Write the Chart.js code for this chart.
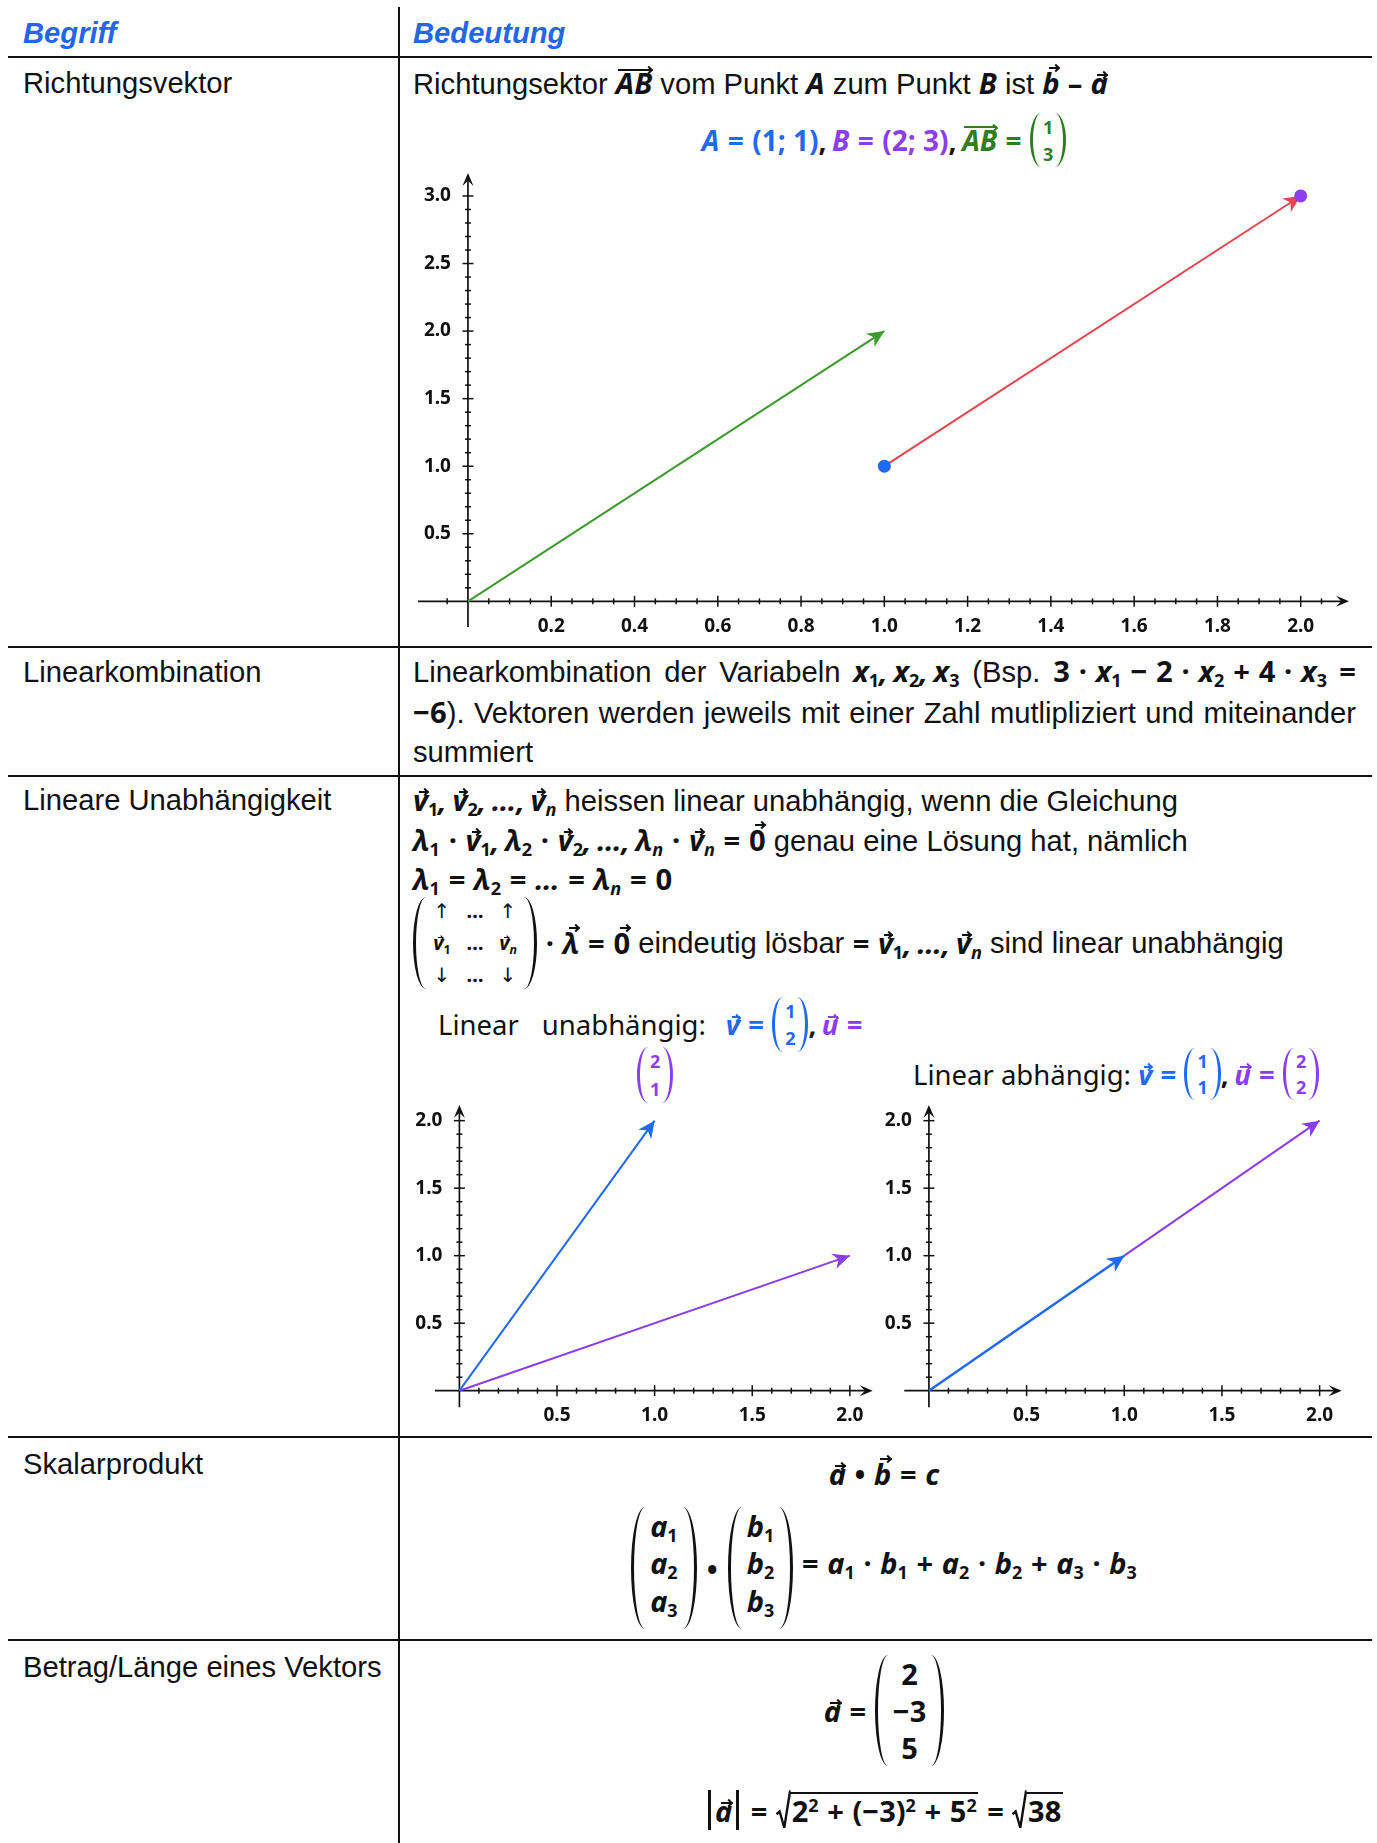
<!DOCTYPE html>
<html lang="de">
<head>
<meta charset="utf-8">
<title>Vektoren – Begriffe</title>
<script src="https://cdn.jsdelivr.net/npm/chart.js@4.4.1/dist/chart.umd.min.js"></script>
<style>
  body { margin: 0; background: #fff; }
  #seite { position: relative; width: 1377px; height: 1843px; overflow: hidden; background: #fff;
           font-family: "Liberation Sans", Arial, sans-serif; font-size: 29.2px; color: #111;
           --blau: #1f69f3; --lila: #8b3df0; --gruen: #2f7f22; }
  .lin { position: absolute; background: #111; }
  .t { position: absolute; white-space: nowrap; line-height: 40px; }
  .kopf { color: #2266ee; font-weight: bold; font-style: italic; }
  .f { position: absolute; display: flex; align-items: center; white-space: pre; }
  .mitte { left: 400px; width: 968px; justify-content: center; }
  canvas { position: absolute; }
  .m { font-family: "Noto Sans", sans-serif; font-weight: 700; }
  .n { font-family: "Noto Sans", sans-serif; font-weight: 400; }
  .pf { font-family: "DejaVu Sans", sans-serif; font-weight: 400; font-size: 20px; }
  .i { font-style: italic; }
  .o { display: inline-block; margin: 0 .3em; font-style: normal; }
  .k { margin-right: .2em; }
  sub { font-size: 0.62em; line-height: 0; vertical-align: -0.3em; font-style: normal; }
  sub.i { font-style: italic; }
  .vec, .ovec { position: relative; display: inline-block; line-height: normal; --t: .38em; --r: -.02em; }
  .vec.h { --t: .15em; }
  .ovec { --t: .19em; }
  .vec::before, .ovec::before { content: ""; position: absolute; top: var(--t); left: .22em; right: calc(var(--r) + .03em);
                                border-top: .075em solid currentColor; }
  .ovec::before { left: .08em; }
  .vec::after, .ovec::after { content: ""; position: absolute; box-sizing: border-box; width: .2em; height: .2em;
                              top: calc(var(--t) - .065em); right: calc(var(--r) + .04em);
                              border-top: .075em solid currentColor; border-right: .075em solid currentColor;
                              transform: rotate(45deg); }
  .mat { display: inline-flex; align-items: stretch; align-self: stretch; --w: 11px; --d: 3px; }
  .pl, .pr { width: var(--w); box-sizing: border-box; flex: none; }
  .pl { border-left: var(--d) solid currentColor; border-radius: 100% 0 0 100% / 50% 0 0 50%; }
  .pr { border-right: var(--d) solid currentColor; border-radius: 0 100% 100% 0 / 0 50% 50% 0; }
  .sp { display: flex; flex-direction: column; justify-content: space-around; align-items: center; line-height: 1; padding: 0 2px; }
  .z { position: absolute; width: 943px; line-height: 39.5px; }
  .z div { text-align: justify; text-align-last: justify; white-space: nowrap; }
  .z div.letzte { text-align-last: left; }
  .betrag { display: inline-block; width: 0; height: 1.35em; border-left: 3px solid #111; vertical-align: -.3em; margin: 0 .12em; }
  .wurzel { position: relative; display: inline-block; margin-left: .5em; border-top: 2.4px solid #111; line-height: 1.2; padding: 0 .06em 0 .04em; }
  .wurzel svg { position: absolute; left: -.5em; top: -2.4px; width: .5em; height: calc(100% + 2.4px); overflow: visible; }
  .wurzel sup { font-size: .62em; line-height: 0; vertical-align: .55em; }
</style>
</head>
<body>
<div id="seite">
  <!-- Tabellenlinien -->
  <div class="lin" style="left:398px;top:7px;width:2px;height:1836px"></div>
  <div class="lin" style="left:8px;top:56px;width:1364px;height:2px"></div>
  <div class="lin" style="left:8px;top:646px;width:1364px;height:2px"></div>
  <div class="lin" style="left:8px;top:775px;width:1364px;height:2px"></div>
  <div class="lin" style="left:8px;top:1436px;width:1364px;height:2px"></div>
  <div class="lin" style="left:8px;top:1639px;width:1364px;height:2px"></div>

  <!-- Kopfzeile -->
  <div class="t kopf" style="left:23px;top:13px">Begriff</div>
  <div class="t kopf" style="left:413px;top:13px">Bedeutung</div>

  <!-- linke Spalte -->
  <div class="t" style="left:23px;top:63px">Richtungsvektor</div>
  <div class="t" style="left:23px;top:652px">Linearkombination</div>
  <div class="t" style="left:23px;top:780px">Lineare Unabhängigkeit</div>
  <div class="t" style="left:23px;top:1444px">Skalarprodukt</div>
  <div class="t" style="left:23px;top:1647px">Betrag/Länge eines Vektors</div>

  <!-- Richtungsvektor -->
  <div class="t" style="left:413px;top:63px">Richtungsektor <span class="m i ovec">AB</span> vom Punkt <span class="m i">A</span> zum Punkt <span class="m i">B</span> ist <span class="m i vec h">b</span> <span class="m">–</span> <span class="m i vec">a</span></div>
  <div class="f mitte" style="top:113px;height:54px;font-size:28px">
    <span class="m" style="color:var(--blau)"><span class="i">A</span><span class="o">=</span>(1; 1)</span><span class="m k">,</span><span class="m" style="color:var(--lila)"><span class="i">B</span><span class="o">=</span>(2; 3)</span><span class="m k">,</span><span class="m" style="color:var(--gruen)"><span class="i ovec">AB</span><span class="o">=</span></span><span class="mat m" style="color:var(--gruen);font-size:18px"><span class="pl"></span><span class="sp"><span>1</span><span>3</span></span><span class="pr"></span></span>
  </div>

  <!-- Linearkombination -->
  <div class="z" style="left:413px;top:652px">
    <div>Linearkombination der Variabeln <span class="m i">x<sub>1</sub><span class="k">,</span>x<sub>2</sub><span class="k">,</span>x<sub>3</sub></span> (Bsp. <span class="m">3<span class="o">·</span><span class="i">x</span><sub>1</sub><span class="o">−</span>2<span class="o">·</span><span class="i">x</span><sub>2</sub><span class="o">+</span>4<span class="o">·</span><span class="i">x</span><sub>3</sub> =</span></div>
    <div><span class="m">−6</span>). Vektoren werden jeweils mit einer Zahl mutlipliziert und miteinander</div>
    <div class="letzte">summiert</div>
  </div>

  <!-- Lineare Unabhängigkeit -->
  <div class="t" style="left:413px;top:780px"><span class="m i"><span class="vec">v</span><sub>1</sub><span class="k">,</span><span class="vec">v</span><sub>2</sub><span class="k">,</span>…<span class="k">,</span><span class="vec">v</span><sub class="i">n</sub></span> heissen linear unabhängig, wenn die Gleichung</div>
  <div class="t" style="left:413px;top:820px"><span class="m i">λ<sub>1</sub><span class="o">·</span><span class="vec">v</span><sub>1</sub><span class="k">,</span>λ<sub>2</sub><span class="o">·</span><span class="vec">v</span><sub>2</sub><span class="k">,</span>…<span class="k">,</span>λ<sub class="i">n</sub><span class="o">·</span><span class="vec">v</span><sub class="i">n</sub><span class="o">=</span><span class="vec h" style="font-style:normal">0</span></span> genau eine Lösung hat, nämlich</div>
  <div class="t" style="left:413px;top:859px"><span class="m i">λ<sub>1</sub><span class="o">=</span>λ<sub>2</sub><span class="o">=</span>…<span class="o">=</span>λ<sub class="i">n</sub><span class="o">=</span><span style="font-style:normal">0</span></span></div>
  <div class="f" style="left:413px;top:897px;height:92px">
    <span class="mat" style="font-size:20px;--w:13px"><span class="pl"></span><span class="sp" style="display:grid;grid-template-columns:24px 24px 24px;column-gap:9px;align-content:space-around;justify-items:center;padding:0 4px"><span class="pf">↑</span><span class="m">…</span><span class="pf">↑</span><span class="m i"><span class="vec">v</span><sub>1</sub></span><span class="m">…</span><span class="m i"><span class="vec">v</span><sub class="i">n</sub></span><span class="pf">↓</span><span class="m">…</span><span class="pf">↓</span></span><span class="pr"></span></span>
    <span class="m i"><span class="o">·</span><span class="vec h">λ</span><span class="o">=</span><span class="vec h" style="font-style:normal">0</span></span><span> eindeutig lösbar </span><span class="m i">=<span style="margin-left:.3em"></span><span class="vec">v</span><sub>1</sub><span class="k">,</span>…<span class="k">,</span><span class="vec">v</span><sub class="i">n</sub></span><span> sind linear unabhängig</span>
  </div>

  <div class="f n" style="left:438px;top:997px;height:55px;font-size:27.5px">
    <span>Linear</span><span style="margin-left:23px">unabhängig:</span><span class="m" style="color:var(--blau);margin-left:20px"><span class="i vec">v</span><span class="o">=</span></span><span class="mat m" style="color:var(--blau);font-size:18px"><span class="pl"></span><span class="sp"><span>1</span><span>2</span></span><span class="pr"></span></span><span class="m k">,</span><span class="m" style="color:var(--lila)"><span class="i vec">u</span><span class="o">=</span></span>
  </div>
  <div class="f" style="left:637px;top:1047px;height:56px;font-size:18px;color:var(--lila)">
    <span class="mat m"><span class="pl"></span><span class="sp"><span>2</span><span>1</span></span><span class="pr"></span></span>
  </div>
  <div class="f n" style="left:913px;top:1048px;height:52px;font-size:27.5px">
    <span>Linear abhängig: </span><span class="m" style="color:var(--blau)"><span class="i vec">v</span><span class="o">=</span></span><span class="mat m" style="color:var(--blau);font-size:18px"><span class="pl"></span><span class="sp"><span>1</span><span>1</span></span><span class="pr"></span></span><span class="m k">,</span><span class="m" style="color:var(--lila)"><span class="i vec">u</span><span class="o">=</span></span><span class="mat m" style="color:var(--lila);font-size:18px"><span class="pl"></span><span class="sp"><span>2</span><span>2</span></span><span class="pr"></span></span>
  </div>

  <!-- Skalarprodukt -->
  <div class="f mitte m" style="top:1453px;height:40px;font-size:29px"><span class="i vec">a</span><span class="o">•</span><span class="i vec h">b</span><span class="o">=</span><span class="i">c</span></div>
  <div class="f mitte m" style="top:1507px;height:122px;font-size:29px">
    <span class="mat i" style="--w:14px"><span class="pl"></span><span class="sp" style="padding:0 5px 10px"><span>a<sub>1</sub></span><span>a<sub>2</sub></span><span>a<sub>3</sub></span></span><span class="pr"></span></span><span class="o" style="margin:0 .35em">•</span><span class="mat i" style="--w:14px"><span class="pl"></span><span class="sp" style="padding:0 5px 10px"><span>b<sub>1</sub></span><span>b<sub>2</sub></span><span>b<sub>3</sub></span></span><span class="pr"></span></span><span class="i" style="position:relative;top:-6px"><span class="o">=</span>a<sub>1</sub><span class="o">·</span>b<sub>1</sub><span class="o">+</span>a<sub>2</sub><span class="o">·</span>b<sub>2</sub><span class="o">+</span>a<sub>3</sub><span class="o">·</span>b<sub>3</sub></span>
  </div>

  <!-- Betrag -->
  <div class="f mitte m" style="top:1655px;height:111px;font-size:29px">
    <span class="i"><span class="vec">a</span><span class="o">=</span></span><span class="mat" style="--w:13px"><span class="pl"></span><span class="sp" style="padding:0 5px"><span>2</span><span>−3</span><span>5</span></span><span class="pr"></span></span>
  </div>
  <div class="f mitte m" style="top:1786px;height:48px;font-size:29px">
    <span class="betrag"></span><span class="i vec">a</span><span class="betrag"></span><span class="o">=</span><span class="wurzel"><svg viewBox="0 0 14 40" preserveAspectRatio="none"><polyline points="0.5,25 3.5,22 8,39.5 13.5,0.5 14,0.5" fill="none" stroke="#111" stroke-width="2.4" vector-effect="non-scaling-stroke"/></svg>2<sup>2</sup><span class="o">+</span>(−3)<sup>2</sup><span class="o">+</span>5<sup>2</sup></span><span class="o">=</span><span class="wurzel"><svg viewBox="0 0 14 40" preserveAspectRatio="none"><polyline points="0.5,25 3.5,22 8,39.5 13.5,0.5 14,0.5" fill="none" stroke="#111" stroke-width="2.4" vector-effect="non-scaling-stroke"/></svg>38</span>
  </div>

  <canvas id="diagramm1" width="977" height="490" style="left:400px;top:160px"></canvas>
  <canvas id="diagramm2" width="480" height="345" style="left:400px;top:1090px"></canvas>
  <canvas id="diagramm3" width="490" height="345" style="left:880px;top:1090px"></canvas>
</div>

<script>
const BLAU = '#1f69f3', LILA = '#8b3df0', GRUEN = '#3d9a2d', ROT = '#e8444f', SCHWARZ = '#111';

// Diagramm 1: Richtungsvektor
const punktA = [{x: 1, y: 1}];
const punktB = [{x: 2, y: 3}];
const vektorGruen = [{x: 0, y: 0}, {x: 1, y: 2}];
const vektorRot = [{x: 1, y: 1}, {x: 2, y: 3}];
const xTicks1 = [0.2, 0.4, 0.6, 0.8, 1.0, 1.2, 1.4, 1.6, 1.8, 2.0];
const yTicks1 = [0.5, 1.0, 1.5, 2.0, 2.5, 3.0];

// Diagramm 2: linear unabhaengig
const vektorV2 = [{x: 0, y: 0}, {x: 1, y: 2}];
const vektorU2 = [{x: 0, y: 0}, {x: 2, y: 1}];

// Diagramm 3: linear abhaengig
const vektorV3 = [{x: 0, y: 0}, {x: 1, y: 1}];
const vektorU3 = [{x: 1, y: 1}, {x: 2, y: 2}];

const xTicks23 = [0.5, 1.0, 1.5, 2.0];
const yTicks23 = [0.5, 1.0, 1.5, 2.0];

function pfeilspitze(ctx, x, y, winkel, laenge, breite, farbe, kerbe) {
    ctx.save();
    ctx.translate(x, y);
    ctx.rotate(winkel);
    ctx.beginPath();
    ctx.moveTo(0, 0);
    ctx.lineTo(-laenge, -breite);
    ctx.lineTo(-laenge * kerbe, 0);
    ctx.lineTo(-laenge, breite);
    ctx.closePath();
    ctx.fillStyle = farbe;
    ctx.fill();
    ctx.restore();
}

function teilung(von, bis, schritt) {
    const werte = [];
    for (let k = Math.ceil(von / schritt - 1e-9); k * schritt <= bis + 1e-9; k++) {
        if (k !== 0) werte.push(+(k * schritt).toFixed(4));
    }
    return werte;
}

// Achsenkreuz mit Pfeilen, Strichen und Beschriftung
const achsenPlugin = {
    id: 'achsen',
    beforeDatasetsDraw(chart, args, o) {
        const ctx = chart.ctx, sx = chart.scales.x, sy = chart.scales.y, ca = chart.chartArea;
        const x0 = sx.getPixelForValue(0), y0 = sy.getPixelForValue(0);
        ctx.save();
        ctx.strokeStyle = SCHWARZ;
        ctx.lineWidth = 1.7;
        ctx.beginPath();
        ctx.moveTo(ca.left, y0); ctx.lineTo(ca.right - 5, y0);
        ctx.moveTo(x0, ca.bottom); ctx.lineTo(x0, ca.top + 5);
        ctx.stroke();
        pfeilspitze(ctx, ca.right, y0, 0, 13, 5.5, SCHWARZ, 0.6);
        pfeilspitze(ctx, x0, ca.top, -Math.PI / 2, 13, 5.5, SCHWARZ, 0.6);

        ctx.lineWidth = 1.5;
        const strich = (px, py, dx, dy) => {
            ctx.beginPath(); ctx.moveTo(px - dx, py - dy); ctx.lineTo(px + dx, py + dy); ctx.stroke();
        };
        teilung(o.xMinor[0], o.xMinor[1], o.xMinor[2]).forEach(v =>
            strich(sx.getPixelForValue(v), y0, 0, o.xTicks.includes(v) ? 5.5 : 3));
        teilung(o.yMinor[0], o.yMinor[1], o.yMinor[2]).forEach(v =>
            strich(x0, sy.getPixelForValue(v), o.yTicks.includes(v) ? 5.5 : 3, 0));

        ctx.fillStyle = SCHWARZ;
        ctx.font = 'bold 19px "Noto Sans"';
        ctx.textAlign = 'center';
        ctx.textBaseline = 'middle';
        o.xTicks.forEach(v => ctx.fillText(v.toFixed(1), sx.getPixelForValue(v), y0 + 25));
        ctx.textAlign = 'right';
        o.yTicks.forEach(v => ctx.fillText(v.toFixed(1), x0 - 17, sy.getPixelForValue(v)));
        ctx.restore();
    }
};

// Pfeilspitze am Ende jeder Vektorlinie
const pfeilPlugin = {
    id: 'pfeile',
    afterDatasetDraw(chart, args) {
        const ds = chart.data.datasets[args.index];
        if (!ds.pfeil) return;
        const pts = args.meta.data;
        const a = pts[pts.length - 2], b = pts[pts.length - 1];
        const w = Math.atan2(b.y - a.y, b.x - a.x);
        pfeilspitze(chart.ctx, b.x, b.y, w, 17, 8, ds.borderColor, 0.7);
    }
};

function vektor(daten, farbe, breite) {
    return {data: daten, showLine: true, borderColor: farbe, borderWidth: breite || 2,
            pointRadius: 0, clip: false, pfeil: true};
}

function punkt(daten, farbe) {
    return {data: daten, showLine: false, pointRadius: 6.5, pointBackgroundColor: farbe,
            pointBorderWidth: 0, clip: false};
}

function vektorDiagramm(id, datasets, grenzen, padding, achsen) {
    return new Chart(document.getElementById(id), {
        type: 'scatter',
        data: {datasets: datasets},
        options: {
            responsive: false,
            animation: false,
            events: [],
            layout: {padding: padding},
            scales: {
                x: {type: 'linear', display: false, min: grenzen[0], max: grenzen[1]},
                y: {type: 'linear', display: false, min: grenzen[2], max: grenzen[3]}
            },
            plugins: {legend: {display: false}, tooltip: {enabled: false}, achsen: achsen}
        },
        plugins: [achsenPlugin, pfeilPlugin]
    });
}

vektorDiagramm('diagramm1',
    [punkt(punktB, LILA), punkt(punktA, BLAU), vektor(vektorRot, ROT), vektor(vektorGruen, GRUEN)],
    [-0.12, 2.116, -0.19, 3.17],
    {left: 18, right: 28, top: 13, bottom: 23},
    {xTicks: xTicks1, yTicks: yTicks1, xMinor: [-0.05, 2.05, 0.05], yMinor: [0.1, 3.0, 0.1]});

vektorDiagramm('diagramm2',
    [vektor(vektorV2, BLAU), vektor(vektorU2, LILA)],
    [-0.125, 2.117, -0.123, 2.116],
    {left: 35, right: 7.3, top: 15, bottom: 27.7},
    {xTicks: xTicks23, yTicks: yTicks23, xMinor: [0.1, 2.0, 0.1], yMinor: [0.1, 2.0, 0.1]});

vektorDiagramm('diagramm3',
    [vektor(vektorV3, BLAU, 2.5), vektor(vektorU3, LILA)],
    [-0.126, 2.113, -0.123, 2.116],
    {left: 24.3, right: 28.3, top: 15, bottom: 27.7},
    {xTicks: xTicks23, yTicks: yTicks23, xMinor: [0.1, 2.0, 0.1], yMinor: [0.1, 2.0, 0.1]});
</script>
</body>
</html>
